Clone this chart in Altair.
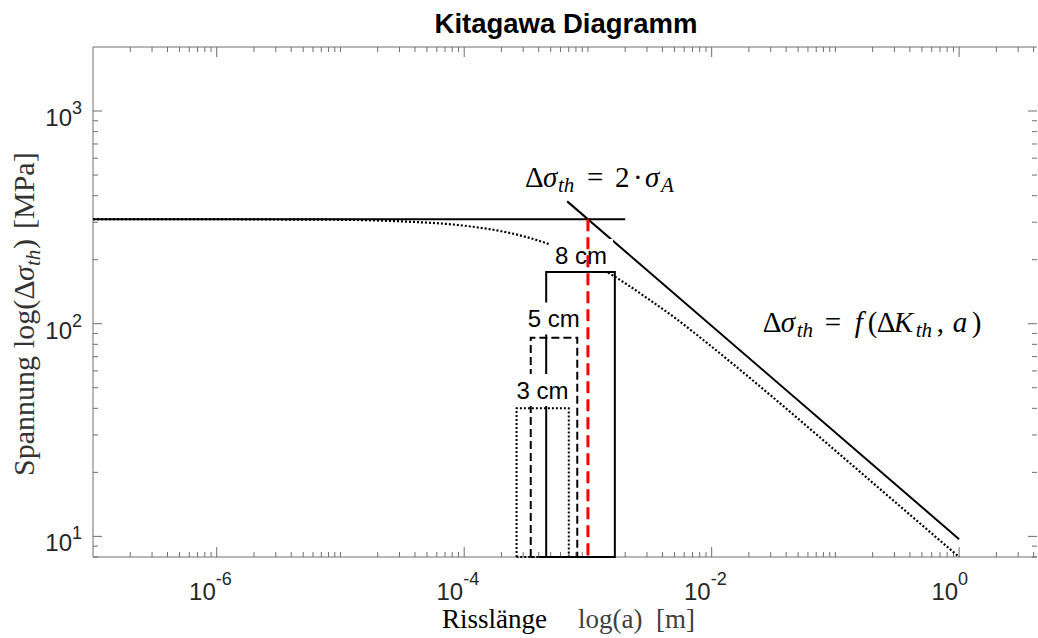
import altair as alt
import pandas as pd

# ---- axis extents and plot size -------------------------------------------
A_MIN, A_MAX = 1e-7, 4.26      # crack length a [m]
S_MIN, S_MAX = 8, 2000         # stress range [MPa]
W, H = 944, 510

# ---- data -----------------------------------------------------------------
# fatigue limit  (Δσ_th = 2·σ_A)
limit_a = [1e-7, 2e-3]
limit_s = [310, 310]

# long-crack threshold  (Δσ_th = f(ΔK_th, a))
lefm_a = [6.8e-4, 1.0]
lefm_s = [376, 9.7]

# transition curve between both regimes
curve_a = [1e-7, 1e-6, 3e-6, 1e-5, 3e-5, 1e-4, 2e-4, 3e-4, 5e-4, 7e-4,
           1e-3, 1.5e-3, 2e-3, 3e-3, 5e-3, 1e-2, 3e-2, 1e-1, 3e-1, 1.0]
curve_s = [310, 310, 309, 308, 303, 289, 272, 258, 235, 217,
           196, 172, 155, 132, 107, 78, 46, 25.3, 14.6, 8.0]

# intersection of both limits
a0 = [1e-3]
a0_s = [310]

# crack length windows per specimen size
win_names = ["8 cm", "5 cm", "3 cm"]
win_lo = [4.6e-4, 3.45e-4, 2.65e-4]
win_hi = [1.65e-3, 8.2e-4, 7.0e-4]
win_top = [175, 86, 40]
win_label_a = [8.8e-4, 5.3e-4, 4.3e-4]
win_label_s = [191, 96, 44.3]

# ticks
x_major = [1e-6, 1e-4, 1e-2, 1.0]
x_exp = ["-6", "-4", "-2", "0"]
x_minor = [k * 10.0 ** e for e in range(-7, 1) for k in range(1, 10)
           if A_MIN * 1.01 < k * 10.0 ** e < A_MAX and not (k == 1 and e in (-6, -4, -2, 0))]
y_major = [10, 100, 1000]
y_exp = ["1", "2", "3"]
y_minor = [8, 9] + [k * 10 for k in range(2, 10)] + [k * 100 for k in range(2, 10)]

# ---- helpers --------------------------------------------------------------
xs = alt.Scale(type="log", domain=[A_MIN, A_MAX], nice=False)
ys = alt.Scale(type="log", domain=[S_MIN, S_MAX], nice=False)
AX = "#6e6e6e"
TXT = "#262626"
SANS = "Liberation Sans"
SERIF = "Liberation Serif"


def X(f="a"):
    return alt.X(f"{f}:Q", scale=xs, axis=None)


def Y(f="s"):
    return alt.Y(f"{f}:Q", scale=ys, axis=None)


one = pd.DataFrame({"k": [0]})
layers = []

# frame (left, bottom, top)
layers.append(alt.Chart(one).mark_rule(color=AX, strokeWidth=1).encode(
    x=alt.value(0), x2=alt.value(W), y=alt.value(H)))
layers.append(alt.Chart(one).mark_rule(color=AX, strokeWidth=1).encode(
    x=alt.value(0), x2=alt.value(W), y=alt.value(0)))
layers.append(alt.Chart(one).mark_rule(color=AX, strokeWidth=1).encode(
    x=alt.value(0), y=alt.value(0), y2=alt.value(H)))

# inward ticks on all four sides
for vals, ln in ((x_major, 10), (x_minor, 5)):
    d = pd.DataFrame({"a": vals})
    layers.append(alt.Chart(d).mark_rule(color=AX, strokeWidth=1).encode(
        x=X(), y=alt.value(H), y2=alt.value(H - ln)))
    layers.append(alt.Chart(d).mark_rule(color=AX, strokeWidth=1).encode(
        x=X(), y=alt.value(0), y2=alt.value(ln)))
for vals, ln in ((y_major, 9), (y_minor, 5)):
    d = pd.DataFrame({"s": vals})
    layers.append(alt.Chart(d).mark_rule(color=AX, strokeWidth=1).encode(
        y=Y(), x=alt.value(0), x2=alt.value(ln)))
    layers.append(alt.Chart(d).mark_rule(color=AX, strokeWidth=1).encode(
        y=Y(), x=alt.value(W), x2=alt.value(W - ln)))

# tick labels 10^n
xl = pd.DataFrame({"a": x_major, "e": x_exp})
layers.append(alt.Chart(xl).mark_text(font=SANS, fontSize=24, color=TXT, align="right",
                                      baseline="alphabetic", dx=-1).encode(
    x=X(), y=alt.value(H + 43), text=alt.value("10")))
layers.append(alt.Chart(xl).mark_text(font=SANS, fontSize=18, color=TXT, align="left",
                                      baseline="alphabetic", dx=-1).encode(
    x=X(), y=alt.value(H + 28), text="e:N"))
yl = pd.DataFrame({"s": y_major, "e": y_exp})
layers.append(alt.Chart(yl).mark_text(font=SANS, fontSize=24, color=TXT, align="right",
                                      baseline="alphabetic", dy=15).encode(
    y=Y(), x=alt.value(-21), text=alt.value("10")))
layers.append(alt.Chart(yl).mark_text(font=SANS, fontSize=18, color=TXT, align="left",
                                      baseline="alphabetic", dy=3).encode(
    y=Y(), x=alt.value(-21), text="e:N"))

# curves
layers.append(alt.Chart(pd.DataFrame({"a": curve_a, "s": curve_s})).mark_line(
    color="black", strokeWidth=2.2, strokeDash=[2, 2], interpolate="monotone").encode(x=X(), y=Y()))
layers.append(alt.Chart(pd.DataFrame({"a": limit_a, "s": limit_s})).mark_line(
    color="black", strokeWidth=2).encode(x=X(), y=Y()))
layers.append(alt.Chart(pd.DataFrame({"a": lefm_a, "s": lefm_s})).mark_line(
    color="black", strokeWidth=2).encode(x=X(), y=Y()))

# crack length windows
dashes = [None, [8, 4], [2, 2]]
for lo, hi, top, dash in zip(win_lo, win_hi, win_top, dashes):
    d = pd.DataFrame({"a": [lo, lo, hi, hi, lo],
                      "s": [S_MIN, top, top, S_MIN, S_MIN],
                      "o": [0, 1, 2, 3, 4]})
    kw = dict(color="black", strokeWidth=2)
    if dash:
        kw["strokeDash"] = dash
    layers.append(alt.Chart(d).mark_line(**kw).encode(x=X(), y=Y(), order="o:Q"))

# window labels on white boxes
lab = pd.DataFrame({"a": win_label_a, "s": win_label_s, "t": win_names})
layers.append(alt.Chart(lab).mark_point(shape="M-1,-0.5H1V0.5H-1Z", size=4096, filled=True,
                                        color="white", opacity=1, strokeWidth=0, yOffset=-9).encode(
    x=X(), y=Y()))
layers.append(alt.Chart(lab).mark_text(font=SANS, fontSize=24, color="black", align="center",
                                       baseline="alphabetic").encode(x=X(), y=Y(), text="t:N"))

# a0 marker
layers.append(alt.Chart(pd.DataFrame({"a": a0, "s": a0_s, "b": [S_MIN]})).mark_rule(
    color="#ff0000", strokeWidth=3, strokeDash=[12, 6]).encode(x=X(), y=Y(), y2="b:Q"))

# formula annotations, built from pieces (text, dx, subscript, italic)
ann = [
    (3.10e-4, 440, [("Δ", 0, False, False), ("σ", 18, False, True), ("th", 33, True, True),
                    ("=", 62, False, False), ("2", 90, False, False), ("·", 108, False, False),
                    ("σ", 120, False, True), ("A", 136, True, True)]),
    (0.02585, 91, [("Δ", 0, False, False), ("σ", 18, False, True), ("th", 34, True, True),
                   ("=", 62, False, False), ("f", 92, False, True), ("(", 105, False, False),
                   ("Δ", 114, False, False), ("K", 131, False, True), ("th", 153, True, True),
                   (",", 174, False, False), ("a", 190, False, True), (")", 209, False, False)]),
]
for pa, ps, pieces in ann:
    d = pd.DataFrame({"a": [pa], "s": [ps]})
    for t, dx, sub, it in pieces:
        layers.append(alt.Chart(d).mark_text(
            font=SERIF, fontSize=21 if sub else 29, fontStyle="italic" if it else "normal",
            color="black", align="left", baseline="alphabetic", dx=dx, dy=5 if sub else 0).encode(
            x=X(), y=Y(), text=alt.value(t)))

# axis titles
layers.append(alt.Chart(one).mark_text(font=SERIF, fontSize=27, color="black", align="left",
                                       baseline="alphabetic").encode(
    x=alt.value(349), y=alt.value(581), text=alt.value("Risslänge")))
layers.append(alt.Chart(one).mark_text(font=SERIF, fontSize=27, color="#404040", align="left",
                                       baseline="alphabetic").encode(
    x=alt.value(485), y=alt.value(581), text=alt.value("log(a)")))
layers.append(alt.Chart(one).mark_text(font=SERIF, fontSize=27, color="#404040", align="left",
                                       baseline="alphabetic").encode(
    x=alt.value(563), y=alt.value(581), text=alt.value("[m]")))

# rotated y title: (text, offset along the text, font size, subscript, italic)
ytitle = [("Spannung", 0, 30, False, False), ("log(Δ", 128, 30, False, False),
          ("σ", 195, 30, False, True), ("th", 210, 21, True, True),
          (")", 227, 30, False, False), ("[MPa]", 247, 30, False, False)]
for t, dx, fs, sub, it in ytitle:
    layers.append(alt.Chart(one).mark_text(
        font=SERIF, fontSize=fs, fontStyle="italic" if it else "normal",
        color="#333333", align="left", baseline="alphabetic", angle=270,
        dx=dx, dy=6 if sub else 0).encode(
        x=alt.value(-59), y=alt.value(429), text=alt.value(t)))

# title
layers.append(alt.Chart(one).mark_text(font=SANS, fontSize=27.5, fontWeight="bold", color="black",
                                       align="center", baseline="alphabetic").encode(
    x=alt.value(W / 2 + 1), y=alt.value(-14), text=alt.value("Kitagawa Diagramm")))

chart = alt.layer(*layers).properties(
    width=W, height=H,
    autosize=alt.AutoSizeParams(type="none"),
    padding={"left": 93, "top": 47, "right": 1, "bottom": 81},
    background="white",
).configure_view(stroke=None)

chart.save("out.html", embed_options={"renderer": "svg", "actions": False})
